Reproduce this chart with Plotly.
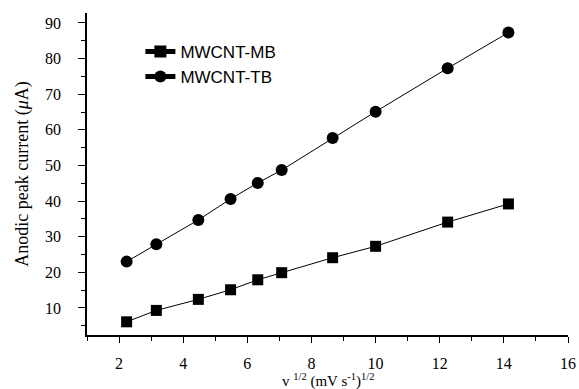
import plotly.graph_objects as go

x_vals = [2.236, 3.162, 4.472, 5.477, 6.325, 7.071, 8.660, 10.0, 12.247, 14.142]
mb_vals = [6.1, 9.3, 12.4, 15.1, 17.9, 19.9, 24.1, 27.3, 34.1, 39.2]
tb_vals = [23.0, 27.9, 34.7, 40.6, 45.1, 48.7, 57.7, 65.1, 77.3, 87.3]
series_names = ["MWCNT-MB", "MWCNT-TB"]
x_title = "v <sup>1/2</sup> (mV s<sup>-1</sup>)<sup>1/2</sup>"
y_title = "Anodic peak current (<i>μ</i>A)"

serif = "Liberation Serif"

fig = go.Figure()
fig.add_trace(go.Scatter(x=x_vals, y=mb_vals, mode="lines+markers", name=series_names[0],
                         line=dict(color="black", width=1),
                         marker=dict(symbol="square", size=11, color="black")))
fig.add_trace(go.Scatter(x=x_vals, y=tb_vals, mode="lines+markers", name=series_names[1],
                         line=dict(color="black", width=1),
                         marker=dict(symbol="circle", size=12, color="black")))

fig.add_annotation(text=x_title, xref="paper", yref="paper", x=0.5, y=-0.14,
                   xanchor="center", yanchor="middle", showarrow=False,
                   font=dict(family=serif, size=15, color="black"))

fig.update_layout(
    width=579, height=389,
    margin=dict(l=87, r=11, t=13, b=54, autoexpand=False),
    paper_bgcolor="white", plot_bgcolor="white",
    font=dict(family=serif, size=15, color="black"),
    showlegend=True,
    legend=dict(x=0.111, y=0.935, xanchor="left", yanchor="top",
                font=dict(family="Liberation Sans", size=17, color="black"),
                bgcolor="rgba(0,0,0,0)", tracegroupgap=0, itemsizing="constant"),
    xaxis=dict(range=[1, 16], tick0=0, dtick=2, ticks="outside", ticklen=6, tickwidth=1,
               tickcolor="black", showline=True, linecolor="black", linewidth=1.5,
               showgrid=False, zeroline=False, ticklabelstandoff=7, automargin=False,
               minor=dict(dtick=1, tick0=0, ticks="outside", ticklen=4, tickcolor="black", showgrid=False),
               tickfont=dict(family=serif, size=16)),
    yaxis=dict(range=[2.4, 92.8], tick0=0, dtick=10, ticks="outside", ticklen=7, tickwidth=1,
               tickcolor="black", showline=True, linecolor="black", linewidth=1.5,
               showgrid=False, zeroline=False, ticklabelstandoff=14, automargin=False,
               minor=dict(dtick=5, tick0=0, ticks="outside", ticklen=4, tickcolor="black", showgrid=False),
               tickfont=dict(family=serif, size=16),
               title=dict(text=y_title, font=dict(family=serif, size=18), standoff=12)),
)

fig.write_html("out.html", config={"displayModeBar": False},
               post_script="document.body.style.margin='0';document.body.style.overflow='hidden';")
